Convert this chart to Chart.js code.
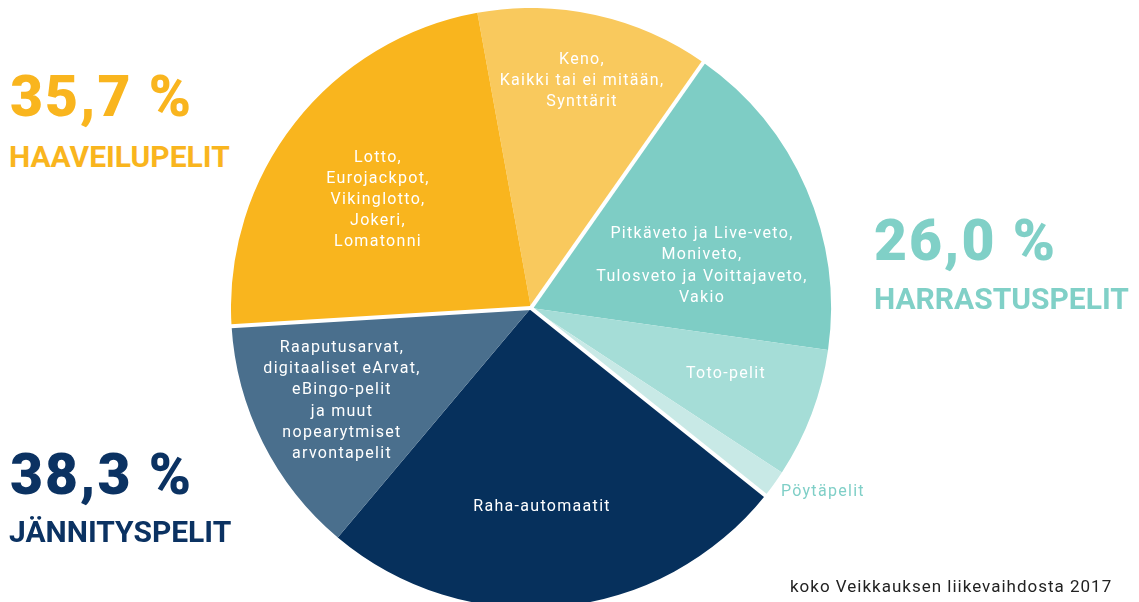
<!DOCTYPE html>
<html lang="fi">
<head>
<meta charset="utf-8">
<script src="https://cdn.jsdelivr.net/npm/chart.js@4"></script>
<style>
  html, body { margin: 0; padding: 0; background: #fff; overflow: hidden; }
  body { width: 1139px; height: 602px; position: relative; font-family: Roboto, "Noto Sans", sans-serif; }
  #pieBox { position: absolute; left: 231px; top: 8px; width: 700px; height: 600px; }
  .big { position: absolute; font-weight: 900; font-size: 57px; letter-spacing: 2px; line-height: 1; white-space: nowrap; }
  .grp { position: absolute; font-weight: 700; font-size: 30px; line-height: 1; white-space: nowrap; }
  .yel { color: #f9b51e; }
  .teal { color: #80d0c7; }
  .navy { color: #0b3262; }
  #note { position: absolute; left: 790px; top: 576px; font-size: 17px; letter-spacing: 1px; color: #222; white-space: nowrap; }
</style>
</head>
<body>
<div id="pieBox"><canvas id="pie"></canvas></div>

<div class="big yel" style="left:10px; top:68px;">35,7 %</div>
<div class="grp yel" style="left:9px; top:142px;">HAAVEILUPELIT</div>

<div class="big teal" style="left:874px; top:212px;">26,0 %</div>
<div class="grp teal" style="left:874px; top:284px;">HARRASTUSPELIT</div>

<div class="big navy" style="left:10px; top:446px;">38,3 %</div>
<div class="grp navy" style="left:9px; top:517px;">JÄNNITYSPELIT</div>

<div id="note">koko Veikkauksen liikevaihdosta 2017</div>

<script>
// pelit myyntiosuuksina (%), myötäpäivään ylhäältä
const categories = [
  ['Keno,', 'Kaikki tai ei mitään,', 'Synttärit'],
  ['Pitkäveto ja Live-veto,', 'Moniveto,', 'Tulosveto ja Voittajaveto,', 'Vakio'],
  ['Toto-pelit'],
  ['Pöytäpelit'],
  ['Raha-automaatit'],
  ['Raaputusarvat,', 'digitaaliset eArvat,', 'eBingo-pelit', 'ja muut', 'nopearytmiset', 'arvontapelit'],
  ['Lotto,', 'Eurojackpot,', 'Vikinglotto,', 'Jokeri,', 'Lomatonni']
];
const shares = [12.6, 17.5, 7.0, 1.5, 25.4, 12.9, 23.1];
// ryhmät: 0 = haaveilu, 1 = harrastus, 2 = jännitys
const groups = [0, 1, 1, 1, 2, 2, 0];

const sliceColors = ['#f9c95d', '#7ecdc5', '#a5ddd7', '#c8e9e6', '#06305c', '#4a6f8d', '#f9b51e'];
// tekstien paikat suhteessa säteeseen
const labelPos = [[0.17, -0.757], [0.57, -0.14], [0.65, 0.22], [0.973, 0.613], [0.037, 0.663], [-0.63, 0.31], [-0.51, -0.36]];

const groupLines = {
  id: 'groupLines',
  afterDatasetsDraw(chart) {
    const ctx = chart.ctx;
    const arcs = chart.getDatasetMeta(0).data;
    ctx.save();
    ctx.strokeStyle = '#fff';
    ctx.lineWidth = 4;
    arcs.forEach((arc, i) => {
      const prev = (i - 1 + arcs.length) % arcs.length;
      if (groups[i] === groups[prev]) return;
      const r = arc.outerRadius + 4;
      ctx.beginPath();
      ctx.moveTo(arc.x, arc.y);
      ctx.lineTo(arc.x + Math.cos(arc.startAngle) * r, arc.y + Math.sin(arc.startAngle) * r);
      ctx.stroke();
    });
    ctx.restore();
  }
};

const sliceLabels = {
  id: 'sliceLabels',
  afterDraw(chart) {
    const ctx = chart.ctx;
    const arcs = chart.getDatasetMeta(0).data;
    ctx.save();
    ctx.font = '16px Roboto, "Noto Sans", sans-serif';
    ctx.letterSpacing = '1.3px';
    ctx.textAlign = 'center';
    ctx.textBaseline = 'middle';
    arcs.forEach((arc, i) => {
      const lines = categories[i];
      const cx = arc.x + labelPos[i][0] * arc.outerRadius;
      const cy = arc.y + labelPos[i][1] * arc.outerRadius;
      ctx.fillStyle = i === 3 ? '#7fcfc7' : '#fff';
      const lh = 21.2;
      lines.forEach((t, k) => {
        ctx.fillText(t, cx, cy + (k - (lines.length - 1) / 2) * lh);
      });
    });
    ctx.restore();
  }
};

new Chart(document.getElementById('pie'), {
  type: 'pie',
  data: {
    labels: categories.map(c => c.join(' ')),
    datasets: [{
      data: shares,
      backgroundColor: sliceColors,
      borderWidth: 0
    }]
  },
  options: {
    responsive: true,
    maintainAspectRatio: false,
    animation: false,
    rotation: -10.3,
    layout: { padding: { left: 0, right: 100, top: 0, bottom: 0 } },
    plugins: {
      legend: { display: false },
      tooltip: { enabled: false }
    }
  },
  plugins: [groupLines, sliceLabels]
});
</script>
</body>
</html>
